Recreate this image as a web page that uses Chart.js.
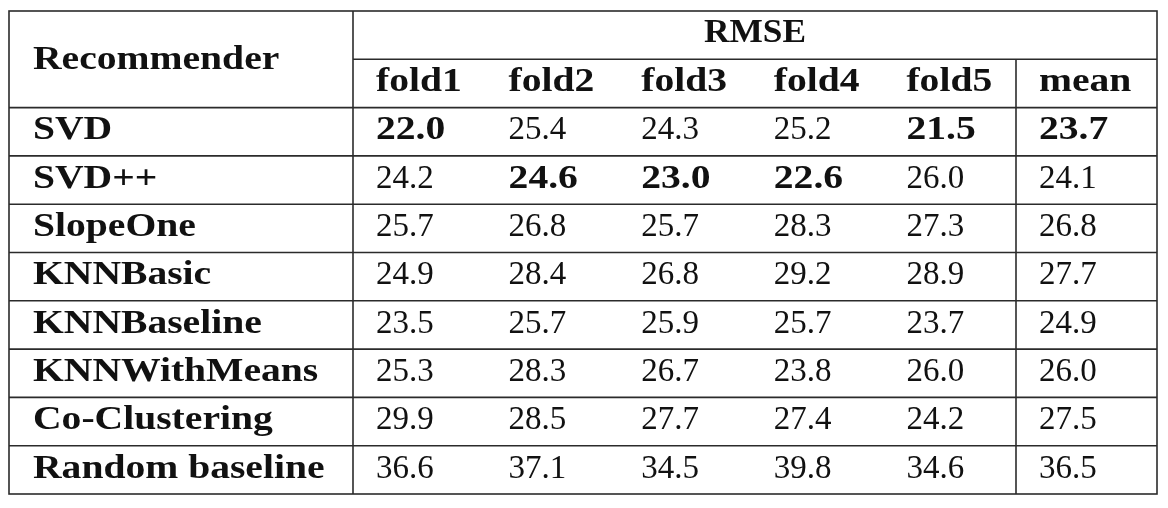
<!DOCTYPE html>
<html>
<head>
<meta charset="utf-8">
<script src="https://cdn.jsdelivr.net/npm/chart.js@4.4.0/dist/chart.umd.min.js"></script>
<style>
    html, body { margin: 0; padding: 0; background: #fff; }
    #wrap { width: 1168px; height: 508px; }
</style>
</head>
<body>
<div id="wrap"><canvas id="rmseTable" width="1168" height="508"></canvas></div>
<script>
    "use strict";

    var firstHeader = "Recommender";
    var metricTitle = "RMSE";
    var recommenders = ["SVD", "SVD++", "SlopeOne", "KNNBasic", "KNNBaseline", "KNNWithMeans", "Co-Clustering", "Random baseline"];
    var columns = ["fold1", "fold2", "fold3", "fold4", "fold5", "mean"];

    var fold1 = [22.0, 24.2, 25.7, 24.9, 23.5, 25.3, 29.9, 36.6];
    var fold2 = [25.4, 24.6, 26.8, 28.4, 25.7, 28.3, 28.5, 37.1];
    var fold3 = [24.3, 23.0, 25.7, 26.8, 25.9, 26.7, 27.7, 34.5];
    var fold4 = [25.2, 22.6, 28.3, 29.2, 25.7, 23.8, 27.4, 39.8];
    var fold5 = [21.5, 26.0, 27.3, 28.9, 23.7, 26.0, 24.2, 34.6];
    var mean = [23.7, 24.1, 26.8, 27.7, 24.9, 26.0, 27.5, 36.5];

    var columnValues = [fold1, fold2, fold3, fold4, fold5, mean];

    // layout only: width of each column in x-scale units (first holds the names)
    var colWidths = [344, 132.6, 132.6, 132.6, 132.6, 132.6, 141];
    var fontPx = 33;
    var boldStretch = 1.2;
    var cellPad = 23;

    var tablePlugin = {
        id: "tableDraw",
        afterDraw: function (chart) {
            var ctx = chart.ctx;
            var xs = chart.scales.x, ys = chart.scales.y;
            var edges = [0];
            for (var i = 0; i < colWidths.length; i++) {
                edges.push(edges[i] + colWidths[i]);
            }
            var nCols = edges.length - 1;
            var nRows = 2 + recommenders.length;

            function px(v) { return xs.getPixelForValue(v); }
            function py(v) { return ys.getPixelForValue(v); }
            function baseline(r) { return py(r) + 0.66 * (py(r + 1) - py(r)); }

            function txt(s, x, y, bold, align, stretch) {
                ctx.save();
                ctx.font = (bold ? "bold " : "") + fontPx + "px 'Liberation Serif', 'Times New Roman', serif";
                ctx.fillStyle = "#111";
                ctx.textAlign = align || "left";
                ctx.textBaseline = "alphabetic";
                ctx.translate(x, y);
                if (bold) ctx.scale(stretch || boldStretch, 1);
                ctx.fillText(s, 0, 0);
                ctx.restore();
            }

            function line(x1, y1, x2, y2) {
                ctx.beginPath();
                ctx.moveTo(x1, y1);
                ctx.lineTo(x2, y2);
                ctx.stroke();
            }

            // grid
            ctx.save();
            ctx.strokeStyle = "#2b2b2b";
            ctx.lineWidth = 1.6;
            ctx.strokeRect(px(edges[0]), py(0), px(edges[nCols]) - px(edges[0]), py(nRows) - py(0));
            line(px(edges[1]), py(0), px(edges[1]), py(nRows));
            line(px(edges[nCols - 1]), py(1), px(edges[nCols - 1]), py(nRows));
            line(px(edges[1]), py(1), px(edges[nCols]), py(1));
            for (var r = 2; r < nRows; r++) {
                line(px(edges[0]), py(r), px(edges[nCols]), py(r));
            }
            ctx.restore();

            // headers
            txt(firstHeader, px(edges[0]) + cellPad + 1, (py(0) + py(2)) / 2 + 10, true);
            txt(metricTitle, (px(edges[1]) + px(edges[nCols])) / 2, py(0) + 31, true, "center", 1.07);
            columns.forEach(function (c, ci) {
                txt(c, px(edges[ci + 1]) + cellPad, baseline(1), true);
            });

            // body, the best (lowest) value of each column is bold
            recommenders.forEach(function (name, ri) {
                var rowIdx = ri + 2;
                txt(name, px(edges[0]) + cellPad + 1, baseline(rowIdx), true);
                columnValues.forEach(function (vals, ci) {
                    var best = Math.min.apply(null, vals);
                    txt(vals[ri].toFixed(1), px(edges[ci + 1]) + cellPad, baseline(rowIdx), vals[ri] === best);
                });
            });
        }
    };

    var total = colWidths.reduce(function (a, b) { return a + b; }, 0);

    var chartObj = new Chart(document.getElementById("rmseTable").getContext("2d"), {
        type: "scatter",
        data: { datasets: [{ data: [] }] },
        options: {
            responsive: false,
            animation: false,
            events: [],
            layout: { padding: { left: 9, top: 11, right: 11, bottom: 14 } },
            plugins: { legend: { display: false }, tooltip: { enabled: false } },
            scales: {
                x: { type: "linear", min: 0, max: total, display: false },
                y: { type: "linear", min: 0, max: 2 + recommenders.length, reverse: true, display: false }
            }
        },
        plugins: [tablePlugin]
    });
</script>
</body>
</html>
